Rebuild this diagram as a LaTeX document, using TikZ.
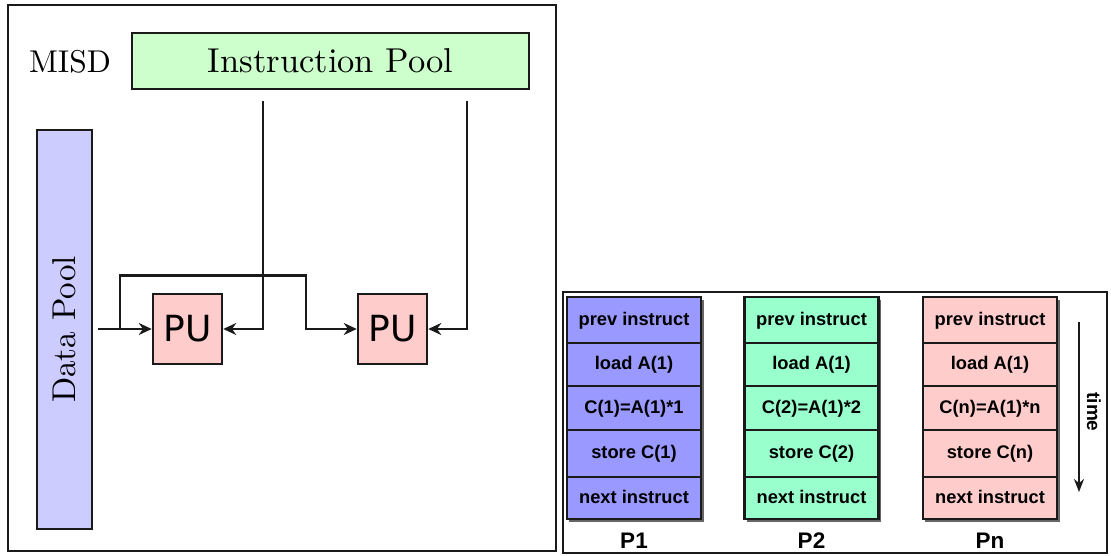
\documentclass[tikz,border=0pt]{standalone}
\usepackage{fontspec}
\newfontfamily\pufont{DejaVu Sans}
\newfontfamily\arialf{Liberation Sans}
\newfontfamily\lmten{lmroman10-regular}[Extension=.otf]
\usetikzlibrary{arrows.meta}
\definecolor{ipool}{HTML}{CCFFCC}
\definecolor{dpool}{HTML}{CCCCFF}
\definecolor{pucol}{HTML}{FFCCCC}
\definecolor{pone}{HTML}{9999FF}
\definecolor{ptwo}{HTML}{99FFCC}
\definecolor{pn}{HTML}{FFCCCC}
\definecolor{lnc}{HTML}{1A1A1A}
\tikzset{
  panel/.style={draw=lnc, line width=2.2pt},
  poolbox/.style={draw=lnc, line width=2.5pt, inner sep=0pt},
  pubox/.style={draw=lnc, line width=2.5pt, fill=pucol, inner sep=0pt,
     minimum width=69pt, minimum height=70pt, font=\pufont\fontsize{36}{40}\selectfont},
  arr/.style={draw=lnc, line width=2.4pt, -{Stealth[length=13pt,width=12pt]}},
  cell/.style={draw=lnc, line width=2.4pt, inner sep=0pt, minimum width=134pt,
     text height=13pt, text depth=3pt,
     font=\arialf\bfseries\fontsize{18.3}{20}\selectfont},
  plabel/.style={font=\arialf\bfseries\fontsize{22.5}{26}\selectfont, inner sep=0pt},
}
\begin{document}
\begin{tikzpicture}[x=1pt,y=-1pt]
\useasboundingbox (0,0) rectangle (1111,556);
% left panel
\draw[panel] (8,5) rectangle (556,551);
\node[poolbox, fill=ipool, minimum width=397pt, minimum height=56pt,
  font=\lmten\fontsize{34.5}{40}\selectfont] (ip) at (330.5,61) {Instruction Pool};
\node[font=\lmten\fontsize{31.5}{36}\selectfont, inner sep=0pt] (misd) at (70,62) {MISD};
\node[poolbox, fill=dpool, rotate=90, minimum width=399pt, minimum height=55pt,
  font=\lmten\fontsize{33}{38}\selectfont] (dp) at (64.5,329.5) {Data Pool};
\node[pubox] (pu1) at (187.5,329) {PU};
\node[pubox] (pu2) at (392.5,329) {PU};
\coordinate (ds) at (98,329);
\coordinate (br) at (120,329);
\coordinate (bt) at (120,275.5);
\coordinate (bm) at (306,275.5);
\coordinate (i1) at (263,101);
\coordinate (i2) at (467,101);
\draw[arr] (ds) -- (pu1.west);
\draw[arr] (br) -- (bt) -- (bm) |- (pu2.west);
\draw[arr] (i1) |- (pu1.east);
\draw[arr] (i2) |- (pu2.east);
% right panel
\draw[panel] (563,292) rectangle (1107,553);
\foreach \cx/\col/\nm/\lab/\k in {634/pone/a/P1/1, 811.5/ptwo/b/P2/2, 990/pn/c/Pn/n}{
  \fill[black!60] (\cx-65,300) rectangle (\cx+69.5,521.5);
  \node[cell, fill=\col, minimum height=46pt] (\nm1) at (\cx,320) {prev instruct};
  \node[cell, fill=\col, minimum height=43pt] (\nm2) at (\cx,364.5) {load A(1)};
  \node[cell, fill=\col, minimum height=44pt] (\nm3) at (\cx,408) {C(\k)=A(1)*\k};
  \node[cell, fill=\col, minimum height=47pt] (\nm4) at (\cx,453.5) {store C(\k)};
  \node[cell, fill=\col, minimum height=42pt] (\nm5) at (\cx,498) {next instruct};
  \node[plabel] (\nm l) at (\cx,541) {\lab};
}
\coordinate (t1) at (1079,322);
\coordinate (t2) at (1079,492);
\draw[draw=lnc, line width=2.4pt, -{Stealth[length=13pt,width=10pt]}] (t1) -- (t2);
\node[rotate=-90, font=\arialf\bfseries\fontsize{19}{22}\selectfont, inner sep=0pt] (tm) at (1094,412) {time};
\end{tikzpicture}
\end{document}
